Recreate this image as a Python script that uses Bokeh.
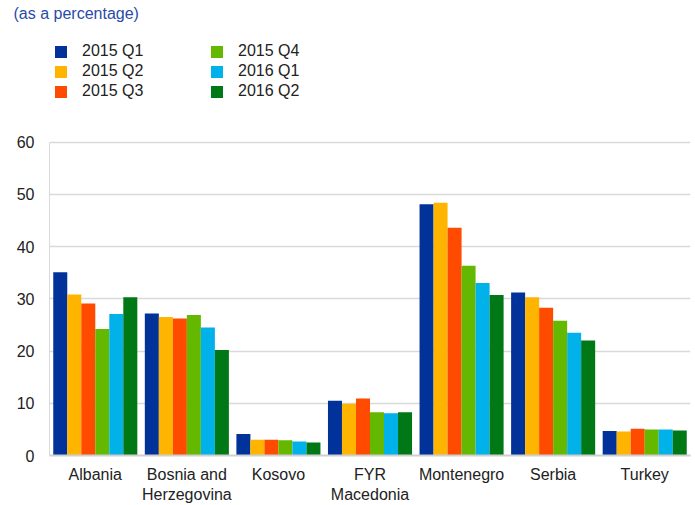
from bokeh.plotting import figure
from bokeh.models import FactorRange, Range1d, Legend, LegendItem, ColumnDataSource, FixedTicker
from bokeh.transform import dodge
from bokeh.embed import file_html
from bokeh.resources import INLINE

# ---- data ----
countries = ["Albania", "Bosnia and\nHerzegovina", "Kosovo", "FYR\nMacedonia",
             "Montenegro", "Serbia", "Turkey"]
series_names = ["2015 Q1", "2015 Q2", "2015 Q3", "2015 Q4", "2016 Q1", "2016 Q2"]
q2015_1 = [35.1, 27.2, 4.1, 10.5, 48.1, 31.2, 4.7]
q2015_2 = [30.8, 26.5, 3.0, 9.9, 48.4, 30.3, 4.6]
q2015_3 = [29.1, 26.2, 3.0, 10.9, 43.6, 28.3, 5.1]
q2015_4 = [24.2, 26.9, 2.9, 8.3, 36.3, 25.8, 5.0]
q2016_1 = [27.1, 24.5, 2.7, 8.1, 33.0, 23.5, 5.0]
q2016_2 = [30.3, 20.2, 2.5, 8.3, 30.7, 22.0, 4.8]
y_ticks = [0, 10, 20, 30, 40, 50, 60]

series_values = [q2015_1, q2015_2, q2015_3, q2015_4, q2016_1, q2016_2]
colors = ["#003299", "#FFB400", "#FF4B00", "#65B800", "#00B1EA", "#007816"]

FONT = "Liberation Sans"

p = figure(x_range=FactorRange(*countries), y_range=Range1d(0, 82.5),
           width=695, height=505, output_backend="svg", toolbar_location=None,
           min_border_left=49, min_border_right=5, min_border_top=0,
           min_border_bottom=10)
p.outline_line_color = None
p.background_fill_color = "white"
p.xgrid.grid_line_color = None
p.ygrid.grid_line_color = "#d9d9d9"
p.ygrid.grid_line_width = 1.5

p.title.text = "(as a percentage)"
p.title.align = "left"
p.title.offset = -36
p.title.text_font = FONT
p.title.text_font_size = "16px"
p.title.text_font_style = "normal"
p.title.text_color = "#2a4ba8"
p.title.standoff = 5

data = {"country": countries}
for i, vals in enumerate(series_values):
    data[f"s{i}"] = vals
src = ColumnDataSource(data)

w = 0.153
renderers = []
for i, (name, col) in enumerate(zip(series_names, colors)):
    r = p.vbar(x=dodge("country", (i - 2.5) * w, range=p.x_range), top=f"s{i}",
               width=w, source=src, fill_color=col, line_color=None)
    renderers.append(r)

# axes
p.yaxis.ticker = FixedTicker(ticks=y_ticks)
p.yaxis.bounds = (0, 60)
p.yaxis.axis_line_color = "#d9d9d9"
p.yaxis.major_tick_line_color = None
p.yaxis.minor_tick_line_color = None
p.yaxis.major_label_standoff = 9
p.yaxis.major_label_text_font = FONT
p.yaxis.major_label_text_font_size = "16px"
p.yaxis.major_label_text_color = "#222222"

p.xaxis.axis_line_color = "#d0d0d0"
p.xaxis.axis_line_width = 2
p.xaxis.major_tick_line_color = None
p.xaxis.minor_tick_line_color = None
p.xaxis.major_label_standoff = 4
p.xaxis.major_label_text_font = FONT
p.xaxis.major_label_text_font_size = "16px"
p.xaxis.major_label_text_color = "#222222"
p.xaxis.major_label_text_line_height = 1.2

# legend
items = [LegendItem(label=n, renderers=[r]) for n, r in zip(series_names, renderers)]
legend = Legend(items=items, orientation="vertical", nrows=3,
                location=(4, 355), padding=0, margin=0, spacing=2,
                glyph_width=15, glyph_height=15, label_height=15,
                label_width=125, label_standoff=14,
                label_text_font=FONT, label_text_font_size="16px",
                label_text_color="#222222",
                border_line_color=None, background_fill_alpha=0)
p.add_layout(legend, "center")

open("out.html", "w").write(file_html(p, INLINE))
